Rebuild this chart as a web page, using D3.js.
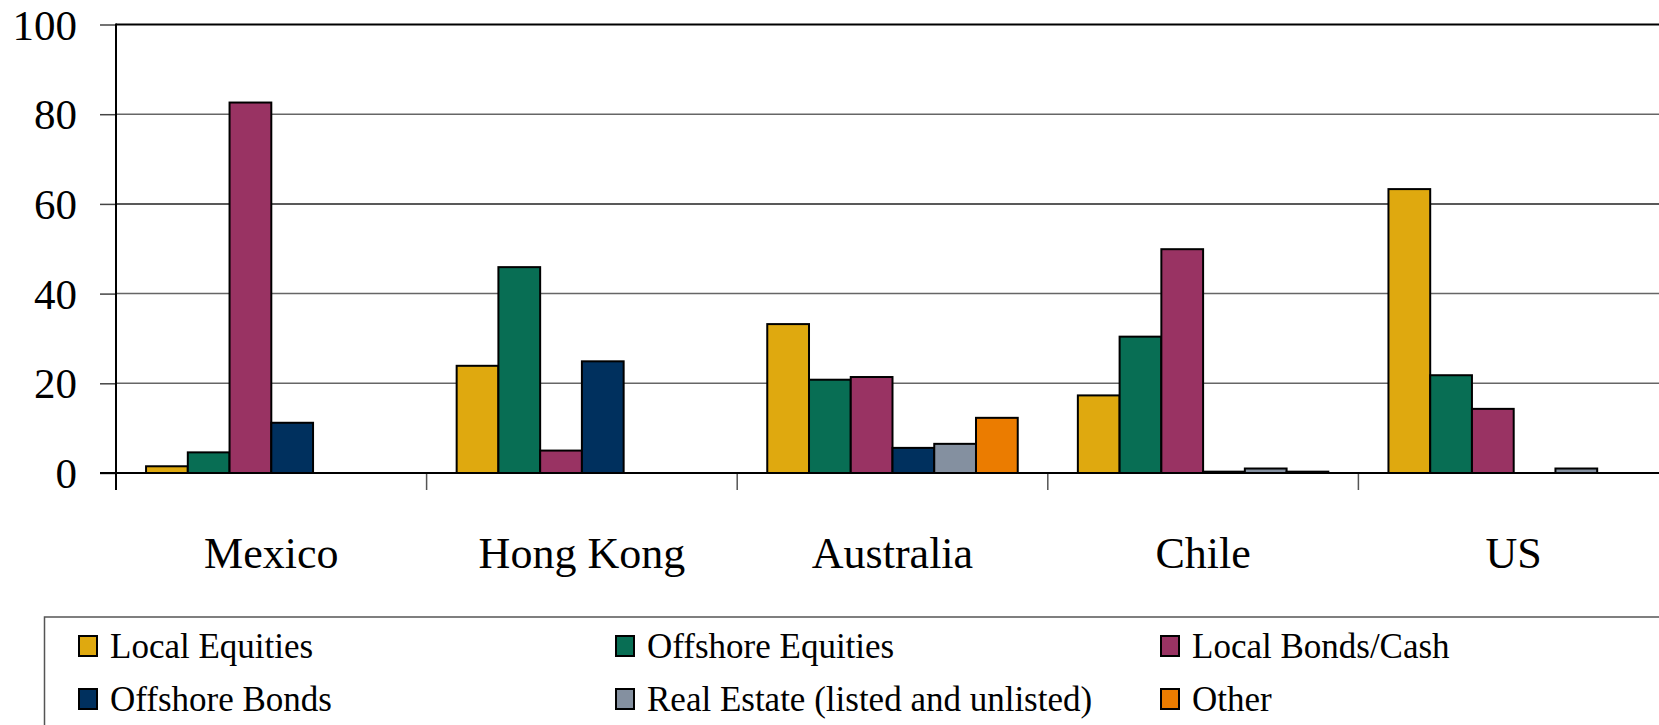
<!DOCTYPE html>
<html>
<head>
<meta charset="utf-8">
<script src="https://cdn.jsdelivr.net/npm/d3@7"></script>
<style>
  html, body { margin: 0; padding: 0; background: #fff; }
  svg { display: block; }
  text { font-family: "Liberation Serif", "DejaVu Serif", serif; fill: #000; }
</style>
</head>
<body>
<svg id="chart" width="1659" height="725"></svg>
<script>
// ---- data ----
const categories = ["Mexico", "Hong Kong", "Australia", "Chile", "US"];
const seriesNames = ["Local Equities", "Offshore Equities", "Local Bonds/Cash", "Offshore Bonds", "Real Estate (listed and unlisted)", "Other"];
const seriesColors = ["#DFA90F", "#086E54", "#993363", "#00305E", "#8490A0", "#EB7C00"];
const localEquities    = [1.5, 23.9, 33.2, 17.3, 63.3];
const offshoreEquities = [4.6, 45.9, 20.8, 30.4, 21.8];
const localBondsCash   = [82.6, 5.0, 21.4, 49.9, 14.3];
const offshoreBonds    = [11.2, 24.9, 5.6, 0.3, 0];
const realEstate       = [0, 0, 6.5, 1.0, 1.0];
const other            = [0, 0, 12.3, 0.3, 0];
const yTicks = [0, 20, 40, 60, 80, 100];

const seriesValues = [localEquities, offshoreEquities, localBondsCash, offshoreBonds, realEstate, other];

// ---- layout ----
const svg = d3.select("#chart");
const plotLeft = 116, plotTop = 24.5, plotBottom = 473;
const bandStep = 310.6;
const plotRight = plotLeft + bandStep * categories.length;

const x0 = d3.scaleBand().domain(categories).range([plotLeft, plotRight]).paddingInner(0).paddingOuter(0);
const x1 = d3.scaleBand().domain(seriesNames).range([0, x0.bandwidth()]).paddingInner(0).paddingOuter(0.72);
const y = d3.scaleLinear().domain([0, 100]).range([plotBottom, plotTop]);

// gridlines
const grid = svg.append("g");
grid.selectAll("line").data(yTicks.filter(t => t > 0 && t < 100)).join("line")
  .attr("x1", plotLeft).attr("x2", 1659)
  .attr("y1", d => y(d)).attr("y2", d => y(d))
  .attr("stroke", d => d === 60 ? "#222" : "#666").attr("stroke-width", 1.5);

// top border
svg.append("line").attr("x1", plotLeft).attr("x2", 1659).attr("y1", y(100)).attr("y2", y(100))
  .attr("stroke", "#000").attr("stroke-width", 2.2);

// y axis
const yAxis = svg.append("g").attr("transform", `translate(${plotLeft},0)`)
  .call(d3.axisLeft(y).tickValues(yTicks).tickSize(16).tickPadding(23).tickFormat(d3.format("d")));
yAxis.select(".domain").remove();
yAxis.selectAll(".tick line").attr("stroke", "#444").attr("stroke-width", 1.5);
yAxis.selectAll(".tick text").attr("font-size", 43).attr("font-family", "Liberation Serif").attr("dy", "0.34em").attr("fill", "#000");
svg.append("line").attr("x1", plotLeft).attr("x2", plotLeft).attr("y1", y(100) - 1).attr("y2", 490)
  .attr("stroke", "#000").attr("stroke-width", 2);

// x axis category tick marks
const xTickPos = categories.map(c => x0(c)).slice(1);
svg.append("g").selectAll("line").data(xTickPos).join("line")
  .attr("x1", d => d).attr("x2", d => d).attr("y1", plotBottom).attr("y2", 490)
  .attr("stroke", "#555").attr("stroke-width", 1.5);

// bars
const groups = svg.append("g").selectAll("g").data(categories).join("g")
  .attr("transform", c => `translate(${x0(c)},0)`);
groups.selectAll("rect")
  .data((c, ci) => seriesNames.map((s, si) => ({ s, si, v: seriesValues[si][ci] })).filter(d => d.v > 0))
  .join("rect")
  .attr("x", d => x1(d.s))
  .attr("width", x1.bandwidth())
  .attr("y", d => y(d.v))
  .attr("height", d => y(0) - y(d.v))
  .attr("fill", d => seriesColors[d.si])
  .attr("stroke", "#000").attr("stroke-width", 2);

// x axis line
svg.append("line").attr("x1", plotLeft - 16).attr("x2", 1659).attr("y1", plotBottom).attr("y2", plotBottom)
  .attr("stroke", "#000").attr("stroke-width", 2);

// category labels
svg.append("g").selectAll("text").data(categories).join("text")
  .attr("x", c => x0(c) + x0.bandwidth() / 2)
  .attr("y", 568)
  .attr("text-anchor", "middle")
  .attr("font-size", 44)
  .text(c => c);

// legend
svg.append("rect").attr("x", 44.5).attr("y", 617).attr("width", 1640).attr("height", 140)
  .attr("fill", "none").attr("stroke", "#555").attr("stroke-width", 1.5);
const legendCols = [79, 616, 1161];
const legendRows = [646, 699];
const leg = svg.append("g").selectAll("g").data(seriesNames).join("g")
  .attr("transform", (d, i) => `translate(${legendCols[i % 3]},${legendRows[Math.floor(i / 3)]})`);
leg.append("rect").attr("x", 0).attr("y", -10).attr("width", 18).attr("height", 20)
  .attr("fill", (d, i) => seriesColors[i]).attr("stroke", "#000").attr("stroke-width", 2);
leg.append("text").attr("x", 31).attr("y", 0).attr("dy", "0.34em")
  .attr("font-size", 35).text(d => d);
</script>
</body>
</html>
